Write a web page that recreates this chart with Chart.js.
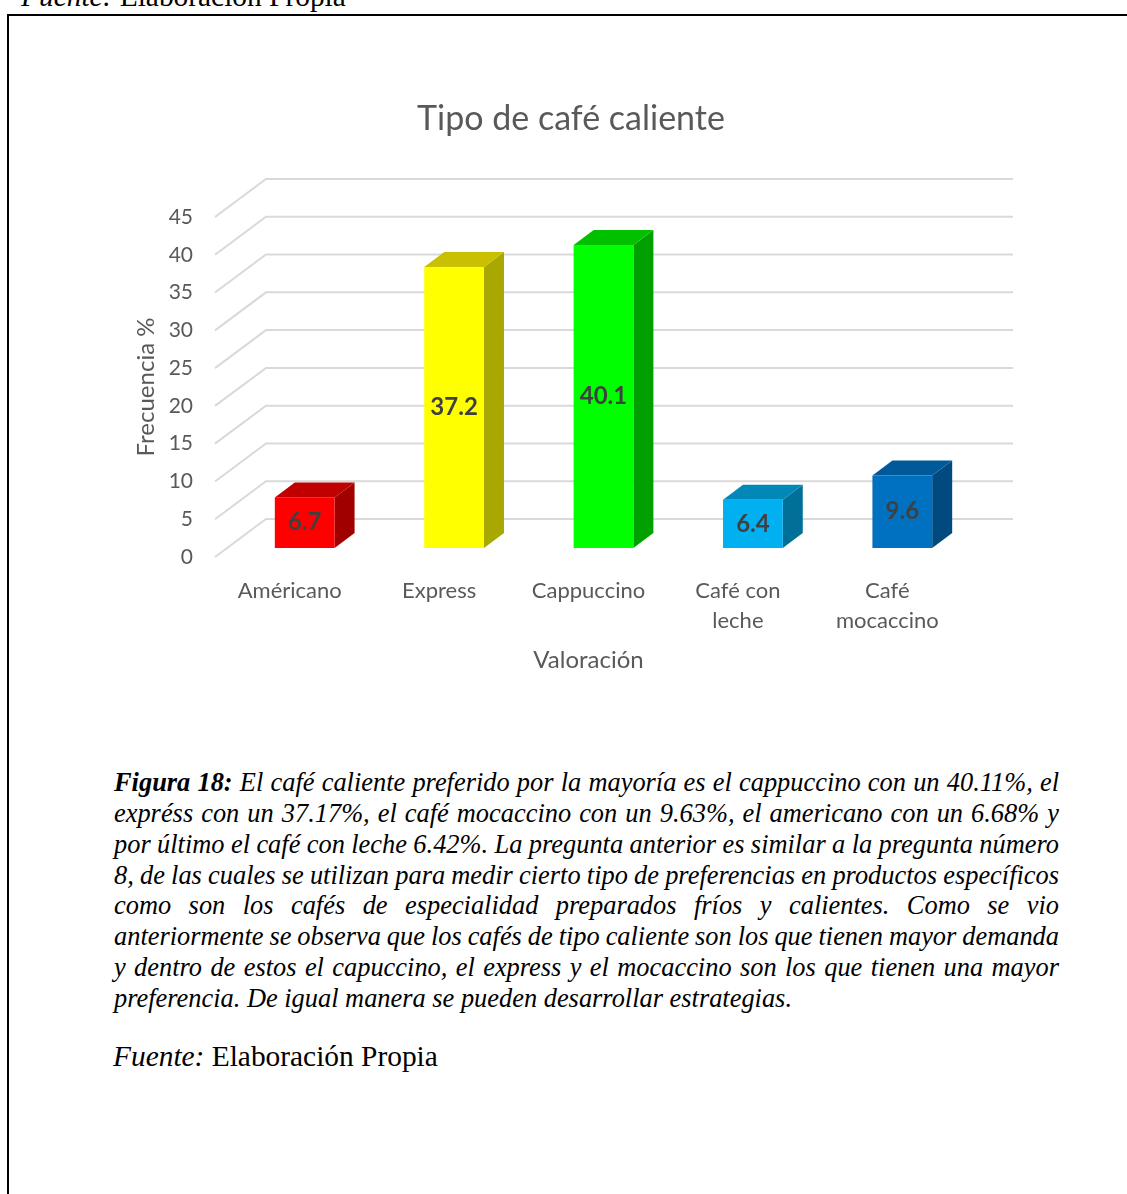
<!DOCTYPE html>
<html lang="es">
<head>
<meta charset="utf-8">
<title>Tipo de café caliente</title>
<script src="https://cdn.jsdelivr.net/npm/chart.js@4.4.1/dist/chart.umd.min.js"></script>
<style>
  html, body { margin: 0; padding: 0; background: #fff; }
  body {
    width: 1127px; height: 1194px; position: relative; overflow: hidden;
    font-family: "Liberation Serif", "Times New Roman", serif; color: #000;
  }
  .frame {
    position: absolute; left: 7px; top: 14px; width: 1200px; height: 1300px;
    border: 2px solid #000; box-sizing: border-box;
  }
  .src { position: absolute; font-size: 29.4px; line-height: 31px; white-space: nowrap; }
  .src i { font-style: italic; }
  #chart { position: absolute; left: 0; top: 0; }
  .caption {
    position: absolute; left: 114px; top: 767px; width: 945px;
    font-size: 26.4px; line-height: 30.86px; font-style: italic;
  }
  .caption .l {
    display: block; white-space: nowrap; word-spacing: -2px;
    text-align: justify; text-align-last: justify;
  }
  .caption .l.last { word-spacing: 0; text-align: left; text-align-last: left; }
</style>
</head>
<body>
<div class="src" style="left:21px; top:-19px;"><i>Fuente:</i> Elaboración Propia</div>
<div class="frame"></div>
<canvas id="chart" width="1127" height="700"></canvas>

<div class="caption">
  <span class="l"><b>Figura 18:</b> El café caliente preferido por la mayoría es el cappuccino con un 40.11%, el</span>
  <span class="l">expréss con un 37.17%, el café mocaccino con un 9.63%, el americano con un 6.68% y</span>
  <span class="l">por último el café con leche 6.42%. La pregunta anterior es similar a la pregunta número</span>
  <span class="l">8, de las cuales se utilizan para medir cierto tipo de preferencias en productos específicos</span>
  <span class="l">como son los cafés de especialidad preparados fríos y calientes. Como se vio</span>
  <span class="l">anteriormente se observa que los cafés de tipo caliente son los que tienen mayor demanda</span>
  <span class="l">y dentro de estos el capuccino, el express y el mocaccino son los que tienen una mayor</span>
  <span class="l last">preferencia. De igual manera se pueden desarrollar estrategias.</span>
</div>
<div class="src" style="left:113px; top:1041px;"><i>Fuente:</i> Elaboración Propia</div>

<script>
// data
const categories = ['Américano', 'Express', 'Cappuccino', ['Café con', 'leche'], ['Café', 'mocaccino']];
const frecuencia = [6.7, 37.2, 40.1, 6.4, 9.6];
const yMax = 45;
const yStep = 5;

// bar colours: front, top, side
const frontColors = ['#ff0000', '#ffff00', '#00ff00', '#00b0f0', '#0070c0'];
const topColors   = ['#c00000', '#c8c000', '#00c000', '#0088b8', '#005a9a'];
const sideColors  = ['#a00000', '#a8a800', '#00a000', '#007098', '#004a80'];

const TEXT = '#595959';
const FONT = 'Lato';

// depth of the back wall and of the bars, relative to the front plane
const WALL = { dx: 51, dy: 38 };
const BAR_SHIFT = { dx: 15, dy: 9 };
const BAR_DEPTH = { dx: 20, dy: 15 };

const wallGrid = {
  id: 'wallGrid',
  beforeDatasetsDraw(chart) {
    const { ctx, chartArea } = chart;
    const y = chart.scales.y;
    ctx.save();
    ctx.strokeStyle = '#d9d9d9';
    ctx.lineWidth = 2;
    y.ticks.forEach(t => {
      const py = y.getPixelForValue(t.value);
      ctx.beginPath();
      ctx.moveTo(chartArea.left, py);
      ctx.lineTo(chartArea.left + WALL.dx, py - WALL.dy);
      ctx.lineTo(chartArea.right + WALL.dx, py - WALL.dy);
      ctx.stroke();
    });
    ctx.restore();
  }
};

const bars3d = {
  id: 'bars3d',
  beforeDatasetDraw() {
    return false; // boxes are drawn below
  },
  afterDatasetsDraw(chart) {
    const { ctx } = chart;
    const meta = chart.getDatasetMeta(0);
    ctx.save();
    meta.data.forEach((bar, i) => {
      const half = bar.width / 2;
      const L = bar.x - half + BAR_SHIFT.dx;
      const R = bar.x + half + BAR_SHIFT.dx;
      const T = bar.y - BAR_SHIFT.dy;
      const B = bar.base - BAR_SHIFT.dy;
      const dx = BAR_DEPTH.dx, dy = BAR_DEPTH.dy;

      ctx.fillStyle = sideColors[i];
      ctx.beginPath();
      ctx.moveTo(R, T); ctx.lineTo(R + dx, T - dy); ctx.lineTo(R + dx, B - dy); ctx.lineTo(R, B);
      ctx.closePath(); ctx.fill();

      ctx.fillStyle = topColors[i];
      ctx.beginPath();
      ctx.moveTo(L, T); ctx.lineTo(R, T); ctx.lineTo(R + dx, T - dy); ctx.lineTo(L + dx, T - dy);
      ctx.closePath(); ctx.fill();

      ctx.fillStyle = frontColors[i];
      ctx.fillRect(L, T, R - L, B - T);

      // value label in the middle of the front face
      ctx.fillStyle = '#404040';
      ctx.font = `bold 24px ${FONT}`;
      ctx.textAlign = 'center';
      ctx.textBaseline = 'middle';
      ctx.fillText(frecuencia[i].toFixed(1), (L + R) / 2, (T + B) / 2);
    });
    ctx.restore();
  }
};

const chartTitle = {
  id: 'chartTitle',
  afterDraw(chart) {
    const { ctx } = chart;
    ctx.save();
    ctx.fillStyle = TEXT;
    ctx.font = `34px ${FONT}`;
    ctx.textAlign = 'center';
    ctx.textBaseline = 'middle';
    ctx.fillText('Tipo de café caliente', 571, 119);
    ctx.restore();
  }
};

new Chart(document.getElementById('chart'), {
  type: 'bar',
  data: {
    labels: categories,
    datasets: [{
      data: frecuencia,
      backgroundColor: frontColors,
      barPercentage: 0.4,
      categoryPercentage: 1
    }]
  },
  options: {
    responsive: false,
    animation: false,
    layout: { padding: { top: 217, right: 165, bottom: 0, left: 120 } },
    plugins: {
      legend: { display: false },
      title: { display: false },
      tooltip: { enabled: false }
    },
    scales: {
      x: {
        grid: { display: false, drawTicks: false },
        border: { display: false },
        ticks: {
          color: TEXT,
          padding: 19,
          maxRotation: 0,
          autoSkip: false,
          font: { family: FONT, size: 22, lineHeight: '30px' }
        },
        title: {
          display: true,
          text: 'Valoración',
          color: TEXT,
          padding: { top: 0, bottom: 25.6 },
          font: { family: FONT, size: 24 }
        },
        afterFit: s => { s.height = 143; }
      },
      y: {
        min: 0,
        max: yMax,
        grid: { display: false, drawTicks: false },
        border: { display: false },
        ticks: {
          stepSize: yStep,
          color: TEXT,
          padding: 22,
          font: { family: FONT, size: 21 }
        },
        title: {
          display: true,
          text: 'Frecuencia %',
          color: TEXT,
          padding: { top: 11.6, bottom: 0 },
          font: { family: FONT, size: 24 }
        },
        afterFit: s => { s.width = 95; }
      }
    }
  },
  plugins: [wallGrid, bars3d, chartTitle]
});
</script>
</body>
</html>
